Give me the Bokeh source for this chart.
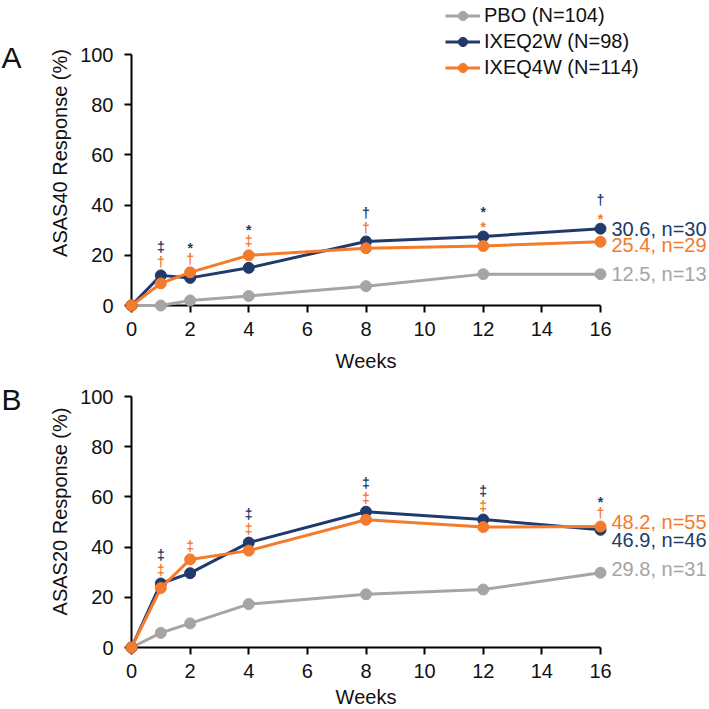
from bokeh.plotting import figure
from bokeh.models import (ColumnDataSource, Legend, LegendItem,
                          FixedTicker, Range1d)
from bokeh.layouts import column
from bokeh.core.properties import value, field
from bokeh.embed import file_html
from bokeh.resources import INLINE

# ---------------- data ----------------
weeks = [0, 1, 2, 4, 8, 12, 16]
groups = ["PBO (N=104)", "IXEQ2W (N=98)", "IXEQ4W (N=114)"]

asas40_pbo = [0, 0, 2.0, 3.8, 7.7, 12.5, 12.5]
asas40_q2w = [0, 12.0, 11.0, 15.0, 25.5, 27.5, 30.6]
asas40_q4w = [0, 8.8, 13.2, 20.0, 22.8, 23.7, 25.4]
asas40_n = [13, 30, 29]
asas40_sig_q2w = ["", "‡", "*", "*", "†", "*", "†"]
asas40_sig_q4w = ["", "†", "†", "‡", "†", "*", "*"]

asas20_pbo = [0, 5.8, 9.6, 17.3, 21.2, 23.1, 29.8]
asas20_q2w = [0, 25.5, 29.6, 41.8, 54.1, 51.0, 46.9]
asas20_q4w = [0, 23.7, 35.1, 38.6, 50.9, 48.0, 48.2]
asas20_n = [31, 46, 55]
asas20_sig_q2w = ["", "‡", "", "‡", "‡", "‡", "*"]
asas20_sig_q4w = ["", "‡", "‡", "‡", "‡", "‡", "†"]

x_ticks = [0, 2, 4, 6, 8, 10, 12, 14, 16]
y_ticks = [0, 20, 40, 60, 80, 100]

# ---------------- styles ----------------
COLORS = ["#a8a4a1", "#213a6b", "#f47a2c"]
TXT = "#111111"
FONT = "Liberation Sans"
PX_X = 469 / 16.0          # pixels per week
PX_Y = 251 / 100.0         # pixels per percentage point
LEFT = 131
EXTRA_RIGHT = 109          # room for the end labels
OV = "overlay"


def style_axes(p, ylabel):
    for ax in (p.xaxis, p.yaxis):
        ax.axis_line_width = 2
        ax.axis_line_color = "black"
        ax.major_tick_line_width = 2
        ax.major_tick_line_color = "black"
        ax.major_tick_in = 0
        ax.major_tick_out = 7
        ax.minor_tick_line_color = None
        ax.major_label_text_font = FONT
        ax.major_label_text_font_size = "20px"
        ax.major_label_text_color = TXT
        ax.axis_label_text_font = FONT
        ax.axis_label_text_font_size = "20px"
        ax.axis_label_text_font_style = "normal"
        ax.axis_label_text_color = TXT
    p.xaxis.ticker = FixedTicker(ticks=x_ticks)
    p.yaxis.ticker = FixedTicker(ticks=y_ticks)
    p.xaxis.bounds = (x_ticks[0], x_ticks[-1])
    p.yaxis.bounds = (y_ticks[0], y_ticks[-1])
    p.yaxis.axis_label = ylabel
    p.xaxis.major_label_standoff = 9
    p.yaxis.major_label_standoff = 11
    p.yaxis.axis_label_standoff = 6
    p.xgrid.visible = False
    p.ygrid.visible = False
    p.outline_line_color = None


def make_panel(letter, ylabel, series, ns, sig_hi, sig_lo, lab_dy,
               space_above, bottom, weeks_drop, with_legend):
    fw = int(16 * PX_X) + EXTRA_RIGHT
    fh = int(round(100 * PX_Y)) + space_above
    p = figure(frame_width=fw, frame_height=fh,
               x_range=Range1d(0, fw / PX_X), y_range=Range1d(0, fh / PX_Y),
               min_border_left=LEFT, min_border_right=0,
               min_border_top=0, min_border_bottom=bottom,
               output_backend="svg", toolbar_location=None, title=None,
               background_fill_color="white", border_fill_color="white")
    style_axes(p, ylabel)

    items = []
    for name, vals, color in zip(groups, series, COLORS):
        src = ColumnDataSource(dict(x=weeks, y=vals))
        l = p.line("x", "y", source=src, line_color=color, line_width=3,
                   level=OV)
        s = p.scatter("x", "y", source=src, size=11, fill_color=color,
                      line_color=color, level=OV)
        items.append(LegendItem(label=name, renderers=[l, s]))

    # x-axis title
    p.text(x=[(x_ticks[0] + x_ticks[-1]) / 2], y=[-weeks_drop / PX_Y],
           text=["Weeks"], text_font=value(FONT), text_font_size="20px",
           text_align="center", text_baseline="middle", text_color=TXT,
           level=OV)

    # end-of-line labels
    end_src = ColumnDataSource(dict(
        x=[weeks[-1]] * 3,
        y=[v[-1] for v in series],
        text=[f"{v[-1]:.1f}, n={n}" for v, n in zip(series, ns)],
        color=COLORS,
        dy=lab_dy,
    ))
    p.text(x="x", y="y", text="text", source=end_src, x_offset=11,
           y_offset=field("dy"), text_color=field("color"),
           text_font=value(FONT), text_font_size="20px",
           text_baseline="middle", text_align="left", level=OV)

    # significance symbols
    top_vals = [max(a, b) for a, b in zip(series[1], series[2])]
    for sig, color, off in ((sig_hi, COLORS[1], 11.5), (sig_lo, COLORS[2], 5.5)):
        src = ColumnDataSource(dict(
            x=weeks, y=[t + off for t in top_vals], text=sig,
            dy=[4 if s == "*" else 0 for s in sig]))
        p.text(x="x", y="y", text="text", source=src, y_offset=field("dy"),
               text_color=color, text_font=value(FONT), text_font_size="14px",
               text_font_style="bold",
               text_align="center", text_baseline="middle", level=OV)

    # panel letter
    p.text(x=[-(LEFT - 1) / PX_X], y=[100 - 3 / PX_Y], text=[letter],
           text_font=value(FONT), text_font_size="30px",
           text_baseline="middle", text_align="left", text_color=TXT,
           level=OV)

    if with_legend:
        legend = Legend(items=items, location=(314, 226),
                        label_text_font=FONT, label_text_font_size="20px",
                        label_text_color=TXT,
                        glyph_width=35, glyph_height=23, label_height=23,
                        spacing=3, padding=0, margin=0, label_standoff=4,
                        border_line_color=None, background_fill_alpha=0)
        p.add_layout(legend, "center")
    return p


pA = make_panel("A", "ASAS40 Response (%)",
                [asas40_pbo, asas40_q2w, asas40_q4w], asas40_n,
                asas40_sig_q2w, asas40_sig_q4w, [0, 0, 3.5],
                space_above=54, bottom=70, weeks_drop=55, with_legend=True)
pB = make_panel("B", "ASAS20 Response (%)",
                [asas20_pbo, asas20_q2w, asas20_q4w], asas20_n,
                asas20_sig_q2w, asas20_sig_q4w, [-4, 10, -5],
                space_above=21, bottom=62, weeks_drop=49, with_legend=False)

layout = column(pA, pB, spacing=0)
open("out.html", "w").write(file_html(layout, INLINE))
